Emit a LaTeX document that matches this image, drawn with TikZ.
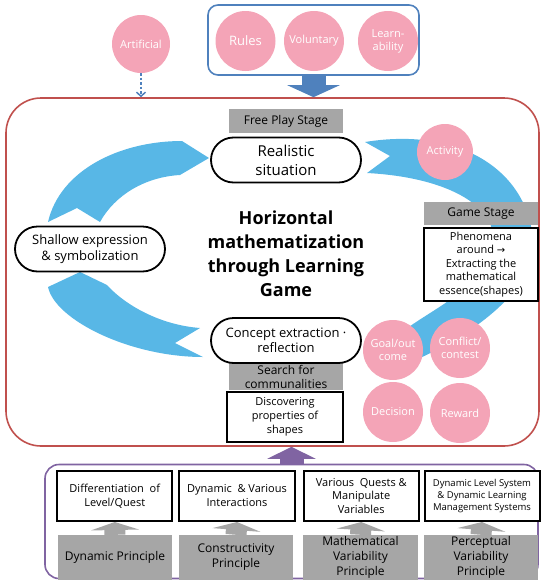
\documentclass[tikz,border=0pt]{standalone}
\usepackage{fontspec}
\setmainfont{Open Sans}
\newfontfamily\arrowfont{DejaVu Sans}
\usetikzlibrary{arrows.meta,shapes.misc}
\definecolor{arcblue}{RGB}{88,183,230}
\definecolor{pinkcol}{RGB}{244,164,183}
\definecolor{graycol}{RGB}{166,166,166}
\definecolor{redcol}{RGB}{192,80,77}
\definecolor{bluecol}{RGB}{79,129,189}
\definecolor{purplecol}{RGB}{128,100,162}
\newcommand{\fs}[2]{\fontsize{#1}{#2}\selectfont}
\begin{document}
\begin{tikzpicture}[x=1pt,y=-1pt,
  pinkcirc/.style={circle,fill=pinkcol,text=white,inner sep=0pt,minimum size=#1,align=center,font=\fs{11}{13}},
  pill/.style={rounded rectangle,draw=black,line width=1.8pt,fill=white,minimum width=152pt,minimum height=45pt,inner sep=1pt,align=center},
  graybox/.style={rectangle,fill=graycol,inner sep=0pt,align=center},
  whitebox/.style={rectangle,draw=black,line width=2pt,fill=white,inner sep=0pt,align=center},
  blockarrow/.style={line width=#1,line cap=butt},
]
\useasboundingbox (0,0) rectangle (541,581);

% main frames
\node[draw=redcol,line width=1.6pt,rounded corners=35pt,minimum width=533pt,minimum height=348pt,inner sep=0pt] (mainbox) at (272.5,272) {};
\node[draw=bluecol,line width=1.6pt,rounded corners=10pt,minimum width=211pt,minimum height=70pt,inner sep=0pt] (topbox) at (313.5,40) {};
\node[draw=purplecol,line width=1.6pt,rounded corners=14pt,minimum width=493pt,minimum height=114pt,inner sep=0pt] (bottombox) at (291.5,521.5) {};

% blue cycle arcs
\fill[arcblue] (209,158) -- (182,141) .. controls (120,141) and (60,170) .. (48,222) -- (77,208) -- (100,222) .. controls (115,195) and (145,177) .. (180,175) -- cycle;
\fill[arcblue] (80,272) -- (107,285) .. controls (125,305) and (160,325) .. (200,328) -- (175,343) -- (203,357) .. controls (130,357) and (55,320) .. (48,287) -- cycle;
\fill[arcblue] (365,142) -- (390,156) -- (367,173) .. controls (460,178) and (505,215) .. (490,250) .. controls (480,290) and (430,310) .. (402,332) -- (385,348) -- (420,358) .. controls (470,335) and (528,295) .. (533,250) .. controls (535,180) and (470,125) .. (365,142) -- cycle;

% top circles
\node[pinkcirc=58pt] (artificial) at (141,44) {Artificial};
\node[pinkcirc=60pt,font=\fs{13}{14}] (rules) at (245.5,41) {Rules};
\node[pinkcirc=60pt] (voluntary) at (314,41) {Voluntary};
\node[pinkcirc=60pt] (learn) at (388,41) {Learn-\\ability};

% connectors into main box
\draw[bluecol,line width=1.5pt,dash pattern=on 2.5pt off 2pt,-{Straight Barb[length=4pt,width=9pt,line width=1.5pt]}] (artificial.south) -- (artificial.south |- mainbox.north);
\draw[bluecol,blockarrow=24pt,-{Triangle[length=12pt,width=52pt]}] (topbox.south) -- (topbox.south |- mainbox.north);
\draw[purplecol,blockarrow=24pt,-{Triangle[length=12pt,width=48pt]}] (bottombox.north) -- (bottombox.north |- mainbox.south);

% stage labels and pills
\node[graybox,minimum width=114pt,minimum height=24pt,font=\fs{12}{14}] (freeplay) at (286,121) {Free Play Stage};
\node[pill,font=\fs{15}{19}] (realistic) at (286,160) {Realistic\\situation};
\node[pill,font=\fs{13}{15.5}] (shallow) at (90,249) {Shallow expression\\\& symbolization};
\node[graybox,minimum width=114pt,minimum height=27pt,font=\fs{12}{14}] (search) at (286,376.5) {Search for\\communalities};
\node[pill,font=\fs{13}{15.5}] (concept) at (286,340.5) {Concept extraction ·\\reflection};
\node[whitebox,minimum width=116pt,minimum height=50pt,font=\fs{11}{14}] (discover) at (285,417) {Discovering\\properties of\\shapes};

\node[font=\bfseries\fs{18}{24},align=center] (title) at (286,254) {Horizontal\\mathematization\\through Learning\\Game};

% game stage
\node[pinkcirc=56pt] (activity) at (445,152) {Activity};
\node[graybox,minimum width=114pt,minimum height=23pt,font=\fs{12}{14}] (gamestage) at (481,213.5) {Game Stage};
\node[whitebox,minimum width=114pt,minimum height=73pt,font=\fs{11}{13.5}] (phenomena) at (481,264.5) {Phenomena\\around {\arrowfont\fs{10}{13.5}→}\\Extracting the\\mathematical\\essence(shapes)};

\node[pinkcirc=60pt] (goal) at (393,350) {Goal/out\\come};
\node[pinkcirc=60pt] (conflict) at (460,348) {Conflict/\\contest};
\node[pinkcirc=60pt] (decision) at (393,412) {Decision};
\node[pinkcirc=60pt] (reward) at (460,413) {Reward};

% bottom principles
\node[whitebox,minimum width=115pt,minimum height=50pt,font=\fs{11}{14}] (w1) at (114.75,496) {Differentiation\ \ of\\Level/Quest};
\node[whitebox,minimum width=116pt,minimum height=50pt,font=\fs{11}{14}] (w2) at (237,496) {Dynamic \ \& Various\\Interactions};
\node[whitebox,minimum width=115pt,minimum height=50pt,font=\fs{11}{13.5}] (w3) at (361.25,496) {Various \ Quests \&\\Manipulate\\Variables};
\node[whitebox,minimum width=115pt,minimum height=50pt,font=\fs{9.5}{12}] (w4) at (482,496) {Dynamic Level System\\\& Dynamic Learning\\Management Systems};

\node[graybox,minimum width=114pt,minimum height=45pt,font=\fs{12}{15}] (g1) at (115,557.5) {Dynamic Principle};
\node[graybox,minimum width=114pt,minimum height=45pt,font=\fs{12}{15}] (g2) at (236,557.5) {Constructivity\\Principle};
\node[graybox,minimum width=115pt,minimum height=45pt,font=\fs{12}{15}] (g3) at (360.5,557.5) {Mathematical\\Variability\\Principle};
\node[graybox,minimum width=114pt,minimum height=45pt,font=\fs{12}{15}] (g4) at (481,557.5) {Perceptual\\Variability\\Principle};

\foreach \i in {1,2,3,4}{
  \draw[graycol,blockarrow=21pt,-{Triangle[length=8pt,width=48pt]}] (g\i.north) -- (w\i.south);
}
\end{tikzpicture}
\end{document}
